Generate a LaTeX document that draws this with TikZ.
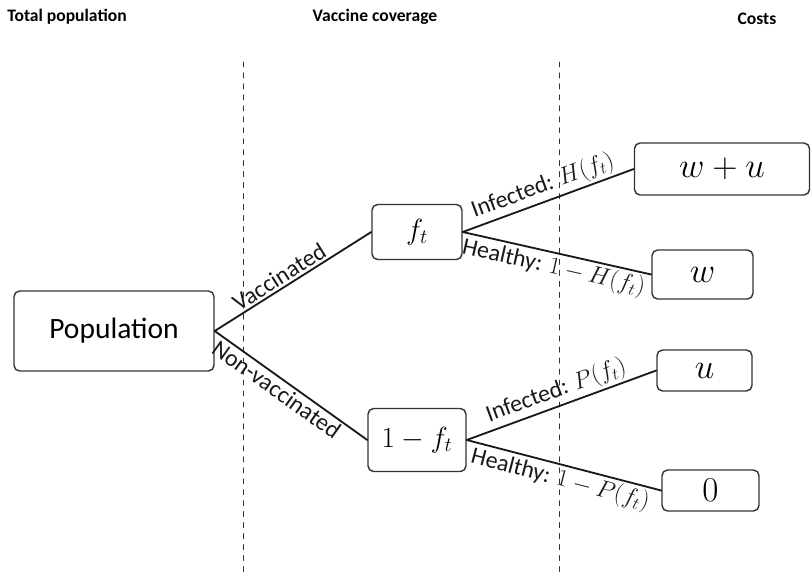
\documentclass[tikz,border=0pt]{standalone}
\usepackage{fontspec}
\setmainfont{Carlito}
\usetikzlibrary{calc}

\begin{document}
\begin{tikzpicture}[x=0.025cm,y=-0.025cm,line cap=round,line join=round,
    box/.style={draw=black!80,line width=1pt,rounded corners=4pt,inner sep=0pt},
    head/.style={font=\fontsize{12.5}{15}\selectfont\bfseries},
    branch/.style={line width=1.3pt,black!90},
    lab/.style={sloped,inner sep=1.5pt,font=\fontsize{17}{20}\selectfont},
    split/.style={dash pattern=on 3.5pt off 4.3pt,line width=0.7pt,black!80}]
  \useasboundingbox (0,0) rectangle (812,581);
  % column titles
  \node[head] (ttot) at (67,17) {Total population};
  \node[head] (tcov) at (375,17) {Vaccine coverage};
  \node[head] (tcost) at (757,19) {Costs};
  % separators
  \coordinate (s1a) at (243,62); \coordinate (s1b) at (243,573);
  \coordinate (s2a) at (559,62); \coordinate (s2b) at (559,573);
  \draw[split] (s1a) -- (s1b);
  \draw[split] (s2a) -- (s2b);
  % tree
  \node[box,minimum width=5cm,minimum height=2cm,font=\fontsize{21}{24}\selectfont] (pop) at (114,331) {Population};
  \node[box,minimum width=2.25cm,minimum height=1.375cm,font=\fontsize{22}{26}\selectfont] (vac) at (417,232) {$f_t$};
  \node[box,minimum width=2.45cm,minimum height=1.575cm,font=\fontsize{22}{26}\selectfont] (non) at (417,440) {$1-f_t$};
  \node[box,minimum width=4.375cm,minimum height=1.3cm,font=\fontsize{25}{28}\selectfont] (wu) at (722,169) {$w+u$};
  \node[box,minimum width=2.525cm,minimum height=1.225cm,font=\fontsize{25}{28}\selectfont] (w) at (702.5,274.5) {$w$};
  \node[box,minimum width=2.375cm,minimum height=1.025cm,font=\fontsize{25}{28}\selectfont] (u) at (704.5,370.5) {$u$};
  \node[box,minimum width=2.425cm,minimum height=1.025cm,font=\fontsize{25}{28}\selectfont] (zero) at (710.5,490.5) {$0$};
  \draw[branch] (pop.east) -- node[lab,above,pos=.45] {Vaccinated} (vac.west);
  \draw[branch] (pop.east) -- node[lab,below,pos=.45] {Non-vaccinated} (non.west);
  \draw[branch] (vac.east) -- node[lab,above,pos=.5] {Infected: $H(f_t)$} (wu.west);
  \draw[branch] (vac.east) -- node[lab,below,pos=.5] {Healthy: $1-H(f_t)$} (w.west);
  \draw[branch] (non.east) -- node[lab,above,pos=.5] {Infected: $P(f_t)$} (u.west);
  \draw[branch] (non.east) -- node[lab,below,pos=.5] {Healthy: $1-P(f_t)$} (zero.west);
\end{tikzpicture}
\end{document}
